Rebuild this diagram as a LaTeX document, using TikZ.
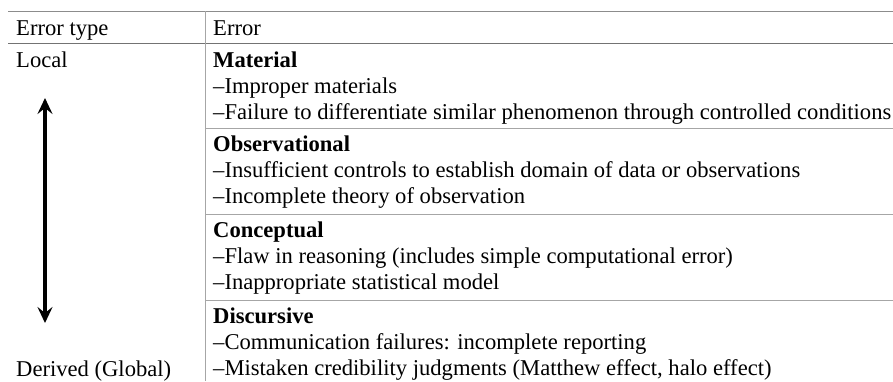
\documentclass[tikz,border=0pt]{standalone}
\usepackage{fontspec}
\setmainfont{Liberation Serif}
\usetikzlibrary{arrows.meta}
\begin{document}
\begin{tikzpicture}[x=1pt,y=-1pt,
  cell/.style={anchor=base west, inner sep=0pt, font=\fontsize{22.6}{26}\selectfont},
  head/.style={cell, font=\fontsize{22.6}{26}\selectfont\bfseries},
  toprule/.style={draw=black!45, line width=0.9pt},
  midrule/.style={draw=black!55, line width=1.8pt},
  seprule/.style={draw=black!35, line width=0.9pt},
  colrule/.style={draw=black!35, line width=0.9pt},
  scalearrow/.style={line width=3.6pt, {Stealth[length=16pt,width=15pt,inset=6pt]}-{Stealth[length=16pt,width=15pt,inset=6pt]}}]
\useasboundingbox (0,0) rectangle (893,381);

% table rules
\draw[toprule] (8,11) -- (893,11);
\draw[midrule] (8,43.5) -- (893,43.5);
\draw[colrule] (205,11) -- (205,381);
\draw[seprule] (205,128) -- (893,128);
\draw[seprule] (205,214) -- (893,214);
\draw[seprule] (205,300) -- (893,300);

% header
\node[cell] (h1) at (16,35) {Error type};
\node[cell] (h2) at (213,35) {Error};

% left column
\node[cell] (local) at (16,67) {Local};
\node[cell] (global) at (16,376) {Derived (Global)};
\coordinate (atop) at (45,98);
\coordinate (abot) at (45,323);
\draw[scalearrow] (atop) -- (abot);

% right column
\node[head] (m0) at (213,67) {Material};
\node[cell] (m1) at (213,93) {–Improper materials};
\node[cell] (m2) at (213,119) {–Failure to differentiate similar phenomenon through controlled conditions};

\node[head] (o0) at (213,151) {Observational};
\node[cell] (o1) at (213,177) {–Insufficient controls to establish domain of data or observations};
\node[cell] (o2) at (213,203) {–Incomplete theory of observation};

\node[head] (c0) at (213,237) {Conceptual};
\node[cell] (c1) at (213,263) {–Flaw in reasoning (includes simple computational error)};
\node[cell] (c2) at (213,289) {–Inappropriate statistical model};

\node[head] (d0) at (213,323) {Discursive};
\node[cell] (d1) at (213,349) {–Communication failures: incomplete reporting};
\node[cell] (d2) at (213,375) {–Mistaken credibility judgments (Matthew effect, halo effect)};
\end{tikzpicture}
\end{document}
